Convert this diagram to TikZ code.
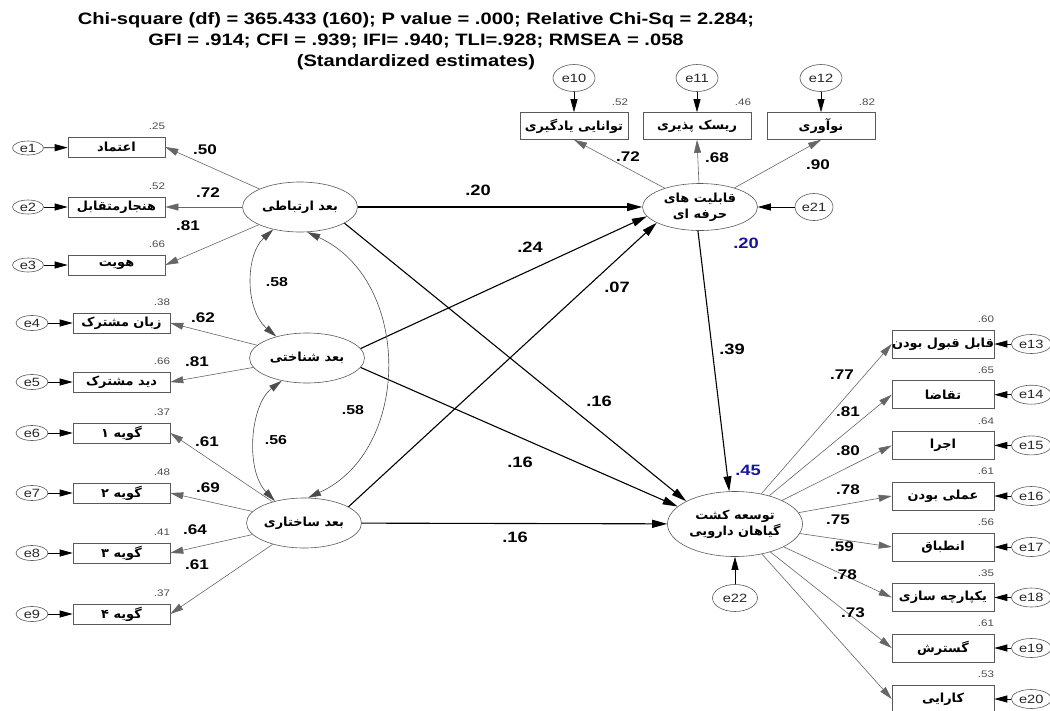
\documentclass[tikz,border=0pt]{standalone}
\usepackage{fontspec}
\setmainfont{Liberation Sans}[FakeStretch=1.22]
\newfontfamily\fafont[Script=Arabic,FakeStretch=1.03]{DejaVu Sans}
\TeXXeTstate=1
\usetikzlibrary{shapes.geometric,arrows.meta,calc}
\newcommand{\fa}[1]{{\fafont\bfseries\beginR #1\endR}}
\definecolor{estblue}{RGB}{20,20,160}
\begin{document}
\begin{tikzpicture}[x=1pt,y=-1pt,
  title/.style={font=\bfseries\fontsize{16.5}{16.5}\selectfont, inner sep=0pt},
  obs/.style={draw=black!65, line width=0.6pt, rectangle, minimum width=97pt, minimum height=20pt, inner sep=0pt, font=\fontsize{12.5}{12.5}\selectfont},
  obsr/.style={obs, minimum width=102pt, minimum height=28pt},
  obst/.style={obs, minimum width=108pt, minimum height=27pt},
  lat/.style={ellipse, draw=black!65, line width=0.6pt, inner sep=0pt, minimum width=115pt, minimum height=50pt, font=\fontsize{12.5}{16}\selectfont, align=center},
  err/.style={ellipse, draw=black!65, line width=0.6pt, inner sep=0pt, minimum width=32pt, minimum height=15pt, font=\fontsize{12}{12}\selectfont, text=black!85},
  errr/.style={err, minimum width=40pt, minimum height=19pt},
  errt/.style={err, minimum width=42pt, minimum height=27pt},
  ind/.style={draw=black!60, line width=0.6pt, -{Triangle[length=13pt,width=7pt]}},
  earr/.style={draw=black, line width=0.7pt, -{Triangle[length=13pt,width=7pt]}},
  spath/.style={draw=black, line width=1.1pt, -{Triangle[length=15pt,width=8pt]}},
  cov/.style={draw=black!70, line width=0.6pt, {Triangle[length=13pt,width=7pt]}-{Triangle[length=13pt,width=7pt]}},
  coef/.style={font=\bfseries\fontsize{14}{14}\selectfont, inner sep=0pt},
  scoef/.style={font=\bfseries\fontsize{15}{15}\selectfont, inner sep=0pt},
  bcoef/.style={scoef, text=estblue},
  rsq/.style={font=\fontsize{9.5}{9.5}\selectfont, text=black!70, inner sep=0pt, anchor=base east}
]
\useasboundingbox (0,0) rectangle (1050,710);

% title
\node[title] (ti1) at (416,20) {Chi-square (df) = 365.433 (160); P value = .000; Relative Chi-Sq = 2.284;};
\node[title] (ti2) at (416,41) {GFI = .914; CFI = .939; IFI= .940; TLI=.928; RMSEA = .058};
\node[title] (ti3) at (416,62) {(Standardized estimates)};

% latent variables
\node[lat] (l1) at (300,207) {\fa{بعد ارتباطی}};
\node[lat] (l2) at (307,358) {\fa{بعد شناختی}};
\node[lat] (l3) at (304,523) {\fa{بعد ساختاری}};
\node[lat, minimum height=47pt] (q) at (700,207) {\fa{قابلیت های}\\\fa{حرفه ای}};
\node[lat, minimum width=135pt, minimum height=65pt] (t) at (735,524) {\fa{توسعه کشت}\\\fa{گیاهان دارویی}};

% left indicators
\node[obs] (b1) at (116.5,147) {\fa{اعتماد}};
\node[obs] (b2) at (116.5,207) {\fa{هنجارمتقابل}};
\node[obs] (b3) at (116.5,265) {\fa{هویت}};
\node[obs] (b4) at (121.5,323) {\fa{زبان مشترک}};
\node[obs] (b5) at (121.5,382) {\fa{دید مشترک}};
\node[obs] (b6) at (121.5,433) {\fa{گویه ۱}};
\node[obs] (b7) at (121.5,493) {\fa{گویه ۲}};
\node[obs] (b8) at (121.5,553) {\fa{گویه ۳}};
\node[obs] (b9) at (121.5,614) {\fa{گویه ۴}};

\node[err, minimum width=31pt, minimum height=14pt] (e1) at (28,148) {e1};
\node[err, minimum width=31pt, minimum height=14pt] (e2) at (28,207) {e2};
\node[err, minimum width=31pt, minimum height=14pt] (e3) at (28,265) {e3};
\node[err] (e4) at (32,323) {e4};
\node[err] (e5) at (32,382) {e5};
\node[err] (e6) at (32,433) {e6};
\node[err] (e7) at (32,493) {e7};
\node[err] (e8) at (32,553) {e8};
\node[err] (e9) at (32,614) {e9};

\foreach \i in {1,...,9} {\draw[earr] (e\i) -- (b\i);}

\node[rsq] (v1) at ($(b1.north east)+(0,-7)$) {.25};
\node[rsq] (v2) at ($(b2.north east)+(0,-7)$) {.52};
\node[rsq] (v3) at ($(b3.north east)+(0,-7)$) {.66};
\node[rsq] (v4) at ($(b4.north east)+(0,-7)$) {.38};
\node[rsq] (v5) at ($(b5.north east)+(0,-7)$) {.66};
\node[rsq] (v6) at ($(b6.north east)+(0,-7)$) {.37};
\node[rsq] (v7) at ($(b7.north east)+(0,-7)$) {.48};
\node[rsq] (v8) at ($(b8.north east)+(0,-7)$) {.41};
\node[rsq] (v9) at ($(b9.north east)+(0,-7)$) {.37};

\draw[ind] (l1) -- (b1.east);
\draw[ind] (l1) -- (b2.east);
\draw[ind] (l1) -- (b3.east);
\draw[ind] (l2) -- (b4.east);
\draw[ind] (l2) -- (b5.east);
\draw[ind] (l3) -- (b6.east);
\draw[ind] (l3) -- (b7.east);
\draw[ind] (l3) -- (b8.east);
\draw[ind] (l3) -- (b9.east);

\node[coef] (c1) at (205,150) {.50};
\node[coef] (c2) at (208,193) {.72};
\node[coef] (c3) at (188,226) {.81};
\node[coef] (c4) at (203,318) {.62};
\node[coef] (c5) at (197,362) {.81};
\node[coef] (c6) at (207,442) {.61};
\node[coef] (c7) at (208,488) {.69};
\node[coef] (c8) at (195,530) {.64};
\node[coef] (c9) at (197,565) {.61};

% top indicators
\node[obst] (u1) at (574,126) {\fa{توانایی یادگیری}};
\node[obst] (u2) at (697,126) {\fa{ریسک پذیری}};
\node[obst] (u3) at (821,126) {\fa{نوآوری}};
\node[errt] (e10) at (574,78) {e10};
\node[errt] (e11) at (697,78) {e11};
\node[errt] (e12) at (821,78) {e12};
\draw[earr] (e10) -- (u1);
\draw[earr] (e11) -- (u2);
\draw[earr] (e12) -- (u3);
\node[rsq] (v10) at ($(u1.north east)+(0,-7)$) {.52};
\node[rsq] (v11) at ($(u2.north east)+(0,-7)$) {.46};
\node[rsq] (v12) at ($(u3.north east)+(0,-7)$) {.82};
\draw[ind] (q) -- (u1.south);
\draw[ind] (q) -- (u2.south);
\draw[ind] (q) -- (u3.south);
\node[coef] (c10) at (628,157) {.72};
\node[coef] (c11) at (717,158) {.68};
\node[coef] (c12) at (818,165) {.90};

\node[errt, minimum width=38pt] (e21) at (814,207) {e21};
\draw[earr] (e21) -- (q);
\node[errt, minimum width=45pt] (e22) at (735,598) {e22};
\draw[earr] (e22) -- (t);

% right indicators
\node[obsr] (r1) at (943,344) {\fa{قابل قبول بودن}};
\node[obsr] (r2) at (943,394.7) {\fa{تقاضا}};
\node[obsr] (r3) at (943,445.4) {\fa{اجرا}};
\node[obsr] (r4) at (943,496) {\fa{عملی بودن}};
\node[obsr] (r5) at (943,547) {\fa{انطباق}};
\node[obsr] (r6) at (943,597.5) {\fa{یکپارچه سازی}};
\node[obsr] (r7) at (943,648) {\fa{گسترش}};
\node[obsr] (r8) at (943,699) {\fa{کارایی}};
\foreach \i/\e in {1/13,2/14,3/15,4/16,5/17,6/18,7/19,8/20} {
  \node[errr] (e\e) at ($(r\i.east)+(37,0)$) {e\e};
  \draw[earr] (e\e) -- (r\i);
  \draw[ind] (t) -- (r\i.west);
}
\node[rsq] (v13) at ($(r1.north east)+(0,-7)$) {.60};
\node[rsq] (v14) at ($(r2.north east)+(0,-7)$) {.65};
\node[rsq] (v15) at ($(r3.north east)+(0,-7)$) {.64};
\node[rsq] (v16) at ($(r4.north east)+(0,-7)$) {.61};
\node[rsq] (v17) at ($(r5.north east)+(0,-7)$) {.56};
\node[rsq] (v18) at ($(r6.north east)+(0,-7)$) {.35};
\node[rsq] (v19) at ($(r7.north east)+(0,-7)$) {.61};
\node[rsq] (v20) at ($(r8.north east)+(0,-7)$) {.53};
\node[coef] (c13) at (842,375) {.77};
\node[coef] (c14) at (848,412) {.81};
\node[coef] (c15) at (848,451) {.80};
\node[coef] (c16) at (848,490) {.78};
\node[coef] (c17) at (838,520) {.75};
\node[coef] (c18) at (842,547) {.59};
\node[coef] (c19) at (845,575) {.78};
\node[coef] (c20) at (853,613) {.73};

% structural paths
\draw[spath] (l1) -- (q);
\draw[spath] (l1.-20) -- (t.155);
\draw[spath] (l2.10) -- (q.190);
\draw[spath] (l2.-10) -- (t.163);
\draw[spath] (l3.20) -- (q.200);
\draw[spath] (l3) -- (t);
\draw[spath] (q.265) -- (t.100);
\node[scoef] (s1) at (478,190) {.20};
\node[scoef] (s2) at (530,247) {.24};
\node[scoef] (s3) at (617,287) {.07};
\node[scoef] (s4) at (599,401) {.16};
\node[scoef] (s5) at (520,462) {.16};
\node[scoef] (s6) at (515,537) {.16};
\node[scoef] (s7) at (732,349) {.39};
\node[bcoef] (s8) at (746,243) {.20};
\node[bcoef] (s9) at (748,470) {.45};

% covariances
\draw[cov] (l1.220) .. controls (245,255) and (245,310) .. (l2.145);
\draw[cov] (l2.222) .. controls (250,405) and (245,470) .. (l3.143);
\draw[cov] (l1.286) .. controls (412,280) and (412,450) .. (l3.81);
\node[coef, font=\bfseries\fontsize{13}{13}\selectfont] (k1) at (277,282) {.58};
\node[coef, font=\bfseries\fontsize{13}{13}\selectfont] (k2) at (276,440) {.56};
\node[coef, font=\bfseries\fontsize{13}{13}\selectfont] (k3) at (353,410) {.58};
\end{tikzpicture}
\end{document}
